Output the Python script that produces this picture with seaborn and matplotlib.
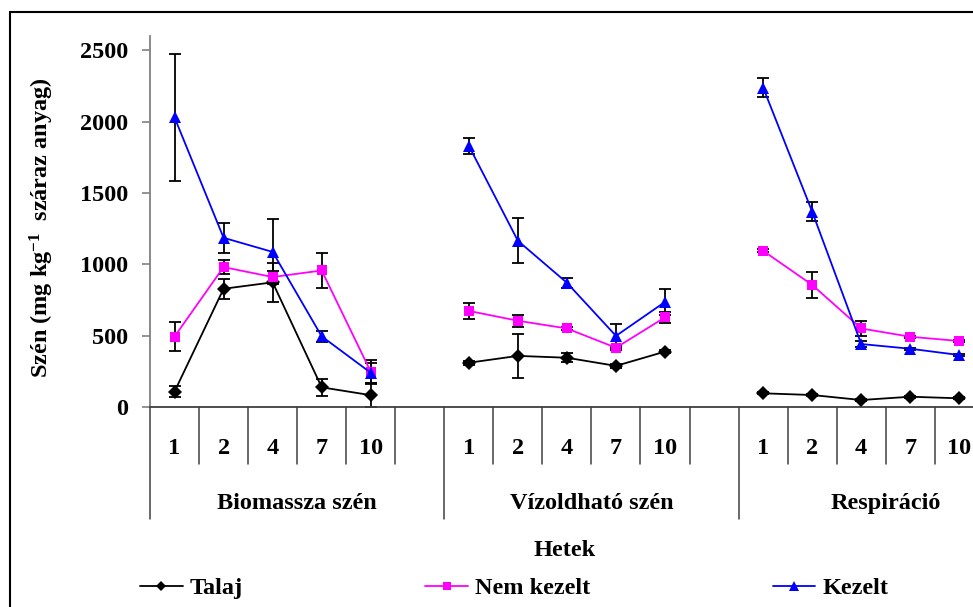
import numpy as np
import pandas as pd
import matplotlib
matplotlib.use("Agg")
import matplotlib.pyplot as plt
from matplotlib.lines import Line2D
from matplotlib.patches import Rectangle
import seaborn as sns

# ---- data -------------------------------------------------------------
groups = ["Biomassza szén", "Vízoldható szén", "Respiráció"]
weeks = ["1", "2", "4", "7", "10"]
series = ["Talaj", "Nem kezelt", "Kezelt"]

talaj = [110, 830, 875, 140, 85,
         312, 360, 347, 290, 390,
         98, 86, 51, 74, 63]
talaj_err = [40, 70, 135, 60, 85,
             15, 155, 30, 15, 10,
             8, 10, 6, 6, 6]

nem_kezelt = [495, 982, 912, 958, 249,
              675, 606, 552, 417, 630,
              1096, 857, 552, 494, 464]
nem_kezelt_err = [100, 48, 42, 122, 85,
                  55, 42, 12, 15, 40,
                  10, 90, 53, 8, 8]

kezelt = [2030, 1187, 1088, 497, 242,
          1831, 1166, 872, 500, 738,
          2239, 1370, 443, 410, 366]
kezelt_err = [445, 105, 228, 38, 70,
              55, 158, 35, 82, 90,
              67, 68, 20, 8, 8]

colors = {"Talaj": "#000000", "Nem kezelt": "#FF00FF", "Kezelt": "#0000FF"}
markers = {"Talaj": "D", "Nem kezelt": "s", "Kezelt": "^"}
marker_sizes = {"Talaj": 6.8, "Nem kezelt": 7.6, "Kezelt": 9.2}

# ---- layout of the category axis ---------------------------------------
slots_per_group = len(weeks) + 1          # five weeks + one empty slot
n_slots = slots_per_group * len(groups) - 1
positions = [g * slots_per_group + i + 0.5
             for g in range(len(groups)) for i in range(len(weeks))]

values = {"Talaj": talaj, "Nem kezelt": nem_kezelt, "Kezelt": kezelt}
errors = {"Talaj": talaj_err, "Nem kezelt": nem_kezelt_err, "Kezelt": kezelt_err}

rows = []
for s in series:
    for k, (p, v) in enumerate(zip(positions, values[s])):
        rows.append({"pos": p, "value": v, "series": s,
                     "group": groups[k // len(weeks)]})
df = pd.DataFrame(rows)

# ---- style ------------------------------------------------------------
sns.set_style("white")
plt.rcParams["font.family"] = ["Liberation Serif", "DejaVu Serif"]
plt.rcParams["font.weight"] = "bold"
plt.rcParams["text.color"] = "black"
plt.rcParams["axes.labelcolor"] = "black"
plt.rcParams["xtick.color"] = "black"
plt.rcParams["ytick.color"] = "black"
plt.rcParams["mathtext.fontset"] = "custom"
plt.rcParams["mathtext.rm"] = "Liberation Serif:bold"
plt.rcParams["mathtext.it"] = "Liberation Serif:bold"
plt.rcParams["mathtext.bf"] = "Liberation Serif:bold"
FS = 17.5

W, H = 973, 607
fig = plt.figure(figsize=(W / 100, H / 100), dpi=100)
ax_left, ax_right_px, ax_top, ax_bottom = 150, 150 + 49.05 * n_slots, 36, 407.3
ax = fig.add_axes([ax_left / W, 1 - ax_bottom / H,
                   (ax_right_px - ax_left) / W, (ax_bottom - ax_top) / H])
ax_h_px = ax_bottom - ax_top

# error bars below the lines
for s in series:
    ax.errorbar(positions, values[s], yerr=errors[s], fmt="none",
                ecolor="black", elinewidth=1.3, capsize=4.6, capthick=1.3,
                zorder=1)

sns.lineplot(data=df, x="pos", y="value", hue="series", style="series",
             units="group", estimator=None, hue_order=series,
             style_order=series, palette=colors, markers=markers,
             dashes=False, linewidth=1.3, markeredgewidth=0,
             legend=False, ax=ax, zorder=3)
# per-series marker sizes
for line in ax.get_lines():
    c = matplotlib.colors.to_hex(line.get_color()).upper()
    for s in series:
        if colors[s].upper() == c:
            line.set_markersize(marker_sizes[s])
            line.set_markerfacecolor(colors[s])
            line.set_markeredgecolor(colors[s])

ax.set_xlim(0, n_slots)
ax.set_ylim(0, 2600)
ax.set_yticks([0, 500, 1000, 1500, 2000, 2500])
ax.set_xticks([])
ax.set_xlabel("")
ax.set_ylabel("")
for side in ("top", "right"):
    ax.spines[side].set_visible(False)
ax.spines["left"].set_color("#808080")
ax.spines["left"].set_linewidth(1.3)
ax.spines["bottom"].set_color("#404040")
ax.spines["bottom"].set_linewidth(1.3)
ax.tick_params(axis="y", direction="out", length=6, width=1.2,
               color="#808080", labelcolor="black", pad=10,
               labelsize=FS, left=True)
for t in ax.get_yticklabels():
    t.set_fontweight("bold")

# category separators and labels below the axis
trans = ax.get_xaxis_transform()
short = -(464 - ax_bottom) / ax_h_px
long_ = -(519 - ax_bottom) / ax_h_px
for b in range(n_slots + 1):
    y1 = long_ if b % slots_per_group == 0 else short
    ax.plot([b, b], [0, y1], transform=trans, color="#404040",
            lw=1.1, clip_on=False)
for k, p in enumerate(positions):
    ax.text(p, -(448 - ax_bottom) / ax_h_px, weeks[k % len(weeks)],
            transform=trans, ha="center", va="center",
            fontsize=FS, fontweight="bold", color="black")
for g, name in enumerate(groups):
    ax.text(g * slots_per_group + slots_per_group / 2,
            -(503 - ax_bottom) / ax_h_px, name, transform=trans,
            ha="center", va="center", fontsize=FS, fontweight="bold",
            color="black")

fig.text(565 / W, 1 - 550 / H, "Hetek", ha="center", va="center",
         fontsize=FS, fontweight="bold", color="black")
fig.text(42 / W, 1 - 228 / H, "Szén (mg kg$^{-1}$  száraz anyag)",
         rotation=90, ha="center", va="center", fontsize=FS,
         fontweight="bold", color="black")

handles = [Line2D([], [], color=colors[s], marker=markers[s],
                  markersize=marker_sizes[s] * 0.75, markeredgewidth=0,
                  lw=1.3) for s in series]
leg = fig.legend(handles, series, loc="center left", ncol=3,
                 bbox_to_anchor=(140 / W, 1 - 588 / H), frameon=False,
                 handlelength=1.75, handletextpad=0.3,
                 columnspacing=7.5, borderpad=0, borderaxespad=0,
                 prop={"weight": "bold", "size": FS})
for t in leg.get_texts():
    t.set_color("black")

# outer chart frame (runs off the right and bottom edges)
fig.patches.append(Rectangle((10 / W, -0.2), 1.2, 1 - 12 / H + 0.2,
                             transform=fig.transFigure, fill=False,
                             edgecolor="black", linewidth=1.5))

fig.savefig("out.png", dpi=100)
